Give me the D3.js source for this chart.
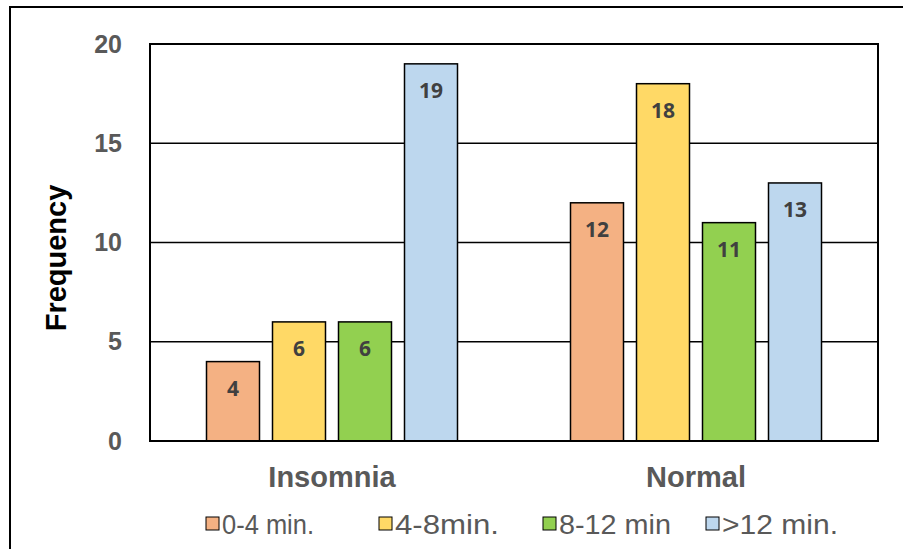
<!DOCTYPE html>
<html>
<head>
<meta charset="utf-8">
<script src="https://cdn.jsdelivr.net/npm/d3@7"></script>
<style>
    body { margin: 0; background: #fff; }
    svg { display: block; }
</style>
</head>
<body>
<div id="chart"></div>
<script>
"use strict";

// groups on the x axis, one series per duration class
const groups = ["Insomnia", "Normal"];
const seriesNames = ["0-4 min.", "4-8min.", "8-12 min", ">12 min."];
const seriesColors = ["#F4B183", "#FFD966", "#92D050", "#BDD7EE"];
const insomniaValues = [4, 6, 6, 19];
const normalValues = [12, 18, 11, 13];
const yTicks = [0, 5, 10, 15, 20];

const width = 903, height = 549;
const margin = {left: 150, right: 25, top: 44, bottom: 108};

const svg = d3.select("#chart")
    .append("svg")
    .attr("width", width)
    .attr("height", height);

// outer frame, right and bottom edges fall off the picture
svg.append("rect")
    .attr("x", 10)
    .attr("y", 7)
    .attr("width", width + 10)
    .attr("height", height + 10)
    .attr("fill", "none")
    .attr("stroke", "#000")
    .attr("stroke-width", 2);

const x0 = d3.scaleBand()
    .domain(groups)
    .range([margin.left, width - margin.right])
    .padding(0);

const groupInner = 251;
const x1 = d3.scaleBand()
    .domain(seriesNames)
    .range([0, groupInner])
    .paddingInner(0.197)
    .paddingOuter(0);

const y = d3.scaleLinear()
    .domain([0, 20])
    .range([height - margin.bottom, margin.top]);

// gridlines
svg.append("g")
    .selectAll("line")
    .data(yTicks)
    .join("line")
    .attr("x1", margin.left)
    .attr("x2", width - margin.right)
    .attr("y1", d => y(d))
    .attr("y2", d => y(d))
    .attr("stroke", "#000")
    .attr("stroke-width", 1.5);

// y tick labels
const yAxis = d3.axisLeft(y).tickValues(yTicks).tickSize(0).tickPadding(28);
const gy = svg.append("g")
    .attr("transform", `translate(${margin.left},0)`)
    .call(yAxis);
gy.select(".domain").remove();
gy.selectAll("text")
    .attr("font-family", "Liberation Sans, Arial, sans-serif")
    .attr("font-size", 25)
    .attr("font-weight", "bold")
    .attr("fill", "#595959");

const rows = groups.map((g, i) => ({
    group: g,
    values: [insomniaValues, normalValues][i]
}));

const groupG = svg.append("g")
    .selectAll("g")
    .data(rows)
    .join("g")
    .attr("transform", d => `translate(${x0(d.group) + (x0.bandwidth() - groupInner) / 2},0)`);

const bars = groupG.selectAll("g")
    .data(d => d.values.map((v, j) => ({name: seriesNames[j], value: v, color: seriesColors[j]})))
    .join("g");

bars.append("rect")
    .attr("x", d => x1(d.name))
    .attr("y", d => y(d.value))
    .attr("width", x1.bandwidth())
    .attr("height", d => y(0) - y(d.value))
    .attr("fill", d => d.color)
    .attr("stroke", "#000")
    .attr("stroke-width", 1.5);

bars.append("text")
    .attr("x", d => x1(d.name) + x1.bandwidth() / 2)
    .attr("y", d => y(d.value) + 34)
    .attr("text-anchor", "middle")
    .attr("font-family", "Open Sans, sans-serif")
    .attr("font-size", 21)
    .attr("font-weight", "bold")
    .attr("fill", "#404040")
    .text(d => d.value);

// plot frame
svg.append("rect")
    .attr("x", margin.left)
    .attr("y", margin.top)
    .attr("width", width - margin.left - margin.right)
    .attr("height", height - margin.top - margin.bottom)
    .attr("fill", "none")
    .attr("stroke", "#000")
    .attr("stroke-width", 2);

// x category labels
const xAxis = d3.axisBottom(x0).tickSize(0).tickPadding(0);
const gx = svg.append("g")
    .attr("transform", `translate(0,${height - margin.bottom})`)
    .call(xAxis);
gx.select(".domain").remove();
gx.selectAll("text")
    .attr("dy", null)
    .attr("y", 46)
    .attr("font-family", "Liberation Sans, Arial, sans-serif")
    .attr("font-size", 29)
    .attr("font-weight", "bold")
    .attr("fill", "#595959");

// y axis title
svg.append("text")
    .attr("transform", `translate(66,258) rotate(-90)`)
    .attr("text-anchor", "middle")
    .attr("font-family", "Liberation Sans, Arial, sans-serif")
    .attr("font-size", 29)
    .attr("font-weight", "bold")
    .attr("fill", "#000")
    .text("Frequency");

// legend
const legendX = [206, 379, 543, 706];
const legend = svg.append("g")
    .selectAll("g")
    .data(seriesNames)
    .join("g")
    .attr("transform", (d, i) => `translate(${legendX[i]},0)`);
legend.append("rect")
    .attr("x", 0)
    .attr("y", 517)
    .attr("width", 13)
    .attr("height", 13)
    .attr("fill", (d, i) => seriesColors[i])
    .attr("stroke", "#000")
    .attr("stroke-width", 1);
legend.append("text")
    .attr("x", 16)
    .attr("y", 534)
    .attr("font-family", "Liberation Sans, Arial, sans-serif")
    .attr("font-size", 28)
    .attr("textLength", (d, i) => [92, 104, 112, 116][i])
    .attr("lengthAdjust", "spacingAndGlyphs")
    .attr("fill", "#595959")
    .text(d => d);
</script>
</body>
</html>
